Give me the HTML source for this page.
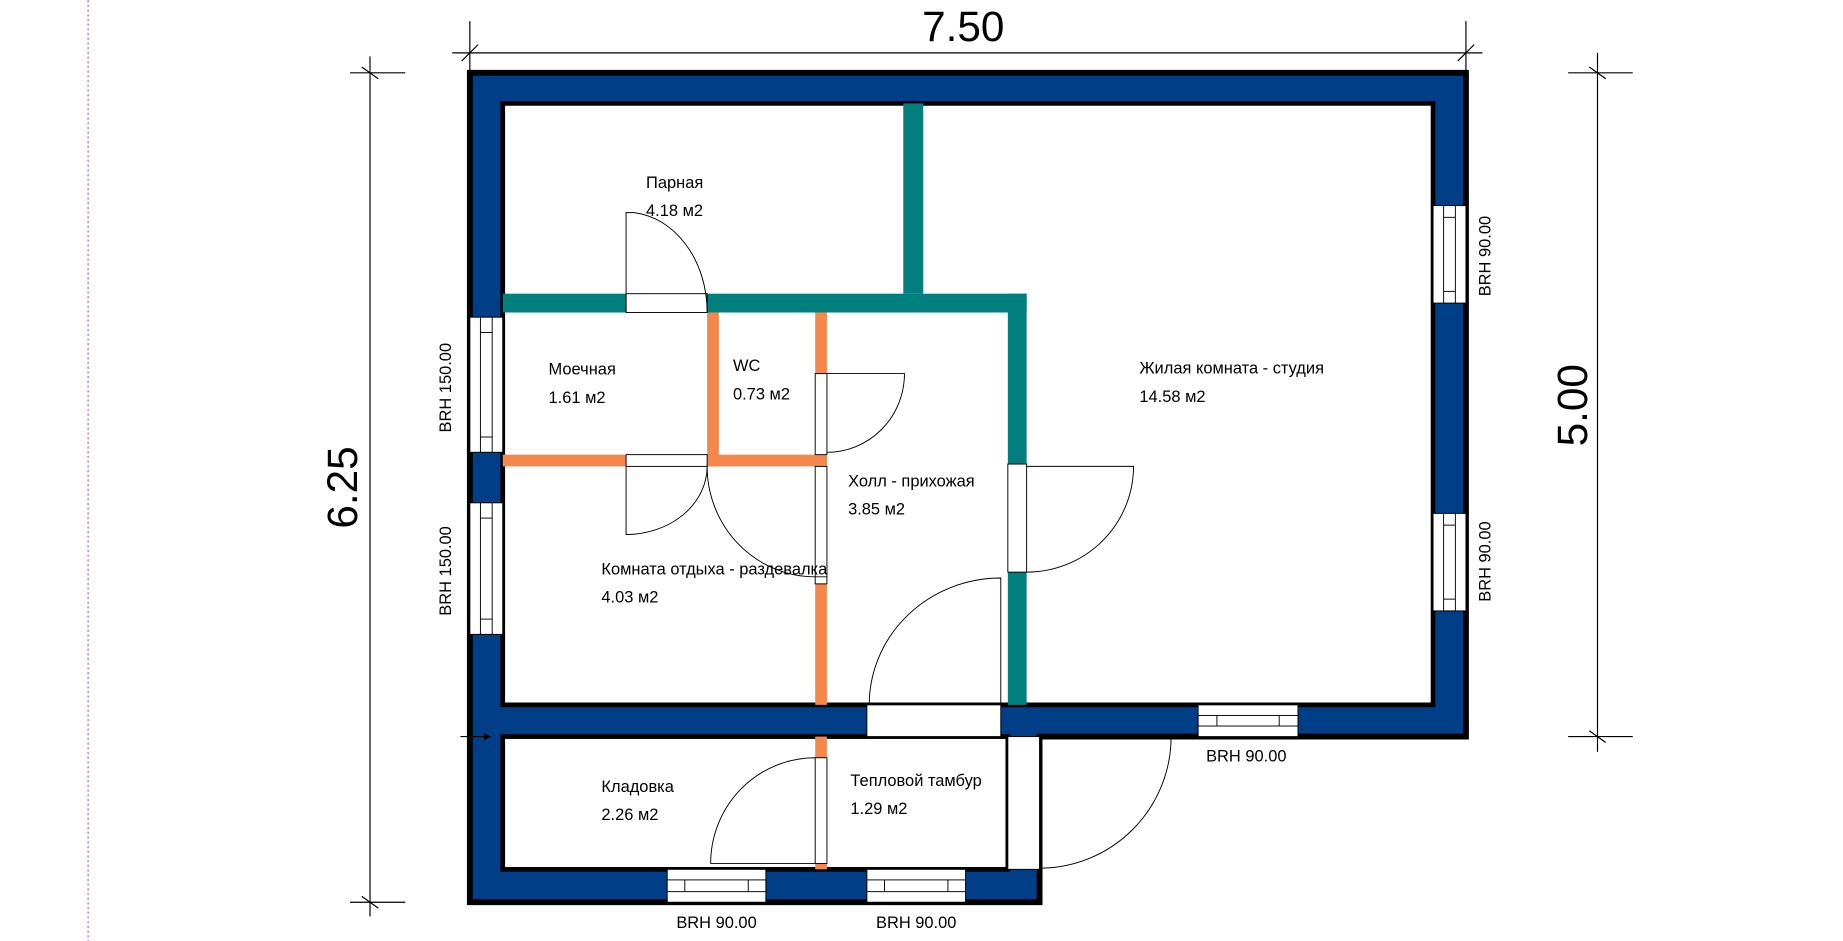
<!DOCTYPE html>
<html><head><meta charset="utf-8"><style>
html,body{margin:0;padding:0;background:#fff;}
svg{display:block;}
text{font-family:"Liberation Sans",Arial,sans-serif;fill:#000;}
</style></head><body>
<svg width="1843" height="941" viewBox="0 0 1569 801" preserveAspectRatio="none" xmlns="http://www.w3.org/2000/svg">
<line x1="75" y1="0" x2="75" y2="801" stroke="#b06cb0" stroke-width="1" stroke-dasharray="2,2"/>

<line x1="385" y1="45" x2="1262" y2="45" stroke="#000" stroke-width="1"/>
<line x1="400" y1="18" x2="400" y2="60" stroke="#000" stroke-width="1"/>
<line x1="1248" y1="18" x2="1248" y2="60" stroke="#000" stroke-width="1"/>
<line x1="393" y1="52" x2="407" y2="38" stroke="#000" stroke-width="1"/>
<line x1="1241" y1="52" x2="1255" y2="38" stroke="#000" stroke-width="1"/>
<text x="820" y="35" font-size="36" text-anchor="middle">7.50</text>

<line x1="315" y1="48" x2="315" y2="780" stroke="#000" stroke-width="1"/>
<line x1="298" y1="62" x2="345" y2="62" stroke="#000" stroke-width="1"/>
<line x1="298" y1="768" x2="345" y2="768" stroke="#000" stroke-width="1"/>
<line x1="308" y1="57" x2="322" y2="67" stroke="#000" stroke-width="1"/>
<line x1="308" y1="763" x2="322" y2="773" stroke="#000" stroke-width="1"/>
<text transform="translate(304,415) rotate(-90)" font-size="36" text-anchor="middle">6.25</text>

<line x1="1360" y1="45" x2="1360" y2="640" stroke="#000" stroke-width="1"/>
<line x1="1335" y1="62" x2="1390" y2="62" stroke="#000" stroke-width="1"/>
<line x1="1335" y1="627" x2="1390" y2="627" stroke="#000" stroke-width="1"/>
<line x1="1353" y1="57" x2="1367" y2="67" stroke="#000" stroke-width="1"/>
<line x1="1353" y1="622" x2="1367" y2="632" stroke="#000" stroke-width="1"/>
<text transform="translate(1351,345) rotate(-90)" font-size="36" text-anchor="middle">5.00</text>

<rect x="400" y="62" width="848" height="565" fill="#003f87"/>
<rect x="400" y="600" width="485" height="168" fill="#003f87"/>
<rect x="428" y="88" width="792" height="512" fill="#fff" stroke="#000" stroke-width="4"/>
<rect x="428" y="627" width="430" height="113" fill="#fff" stroke="#000" stroke-width="4"/>
<path d="M400,62 H1248 V627 H885 V768 H400 Z" fill="none" stroke="#000" stroke-width="5"/>

<g fill="#007f7f">
<rect x="769" y="88" width="17" height="162"/>
<rect x="428" y="250" width="105" height="16"/>
<rect x="602" y="250" width="272" height="16"/>
<rect x="858" y="250" width="16" height="145"/>
<rect x="858" y="487" width="16" height="113"/>
</g>
<g fill="#f4874b">
<rect x="602" y="266" width="10" height="131"/>
<rect x="428" y="387" width="105" height="10"/>
<rect x="602" y="387" width="102" height="10"/>
<rect x="694" y="266" width="10" height="52"/>
<rect x="694" y="497" width="10" height="103"/>
<rect x="694" y="627" width="10" height="18"/>
<rect x="694" y="735" width="10" height="5"/>
</g>

<g fill="#fff" stroke="#000" stroke-width="0.8">
<rect x="533" y="250" width="69" height="16"/>
<rect x="533" y="387" width="69" height="10"/>
<rect x="858" y="395" width="16" height="92"/>
<rect x="694" y="318" width="10" height="69"/>
<rect x="694" y="397" width="10" height="100"/>
<rect x="694" y="645" width="10" height="90"/>
<rect x="738" y="600" width="114" height="27"/>
<rect x="858" y="627" width="27" height="113"/>
</g>

<g fill="#fff" stroke="#000" stroke-width="0.8">
<rect x="400" y="270" width="28" height="115"/><rect x="409" y="270" width="10" height="115"/>
<line x1="409" y1="283" x2="419" y2="283"/><line x1="409" y1="372" x2="419" y2="372"/>
<rect x="400" y="428" width="28" height="112"/><rect x="409" y="428" width="10" height="112"/>
<line x1="409" y1="441" x2="419" y2="441"/><line x1="409" y1="527" x2="419" y2="527"/>
<rect x="1220" y="175" width="28" height="83"/><rect x="1229" y="175" width="10" height="83"/>
<line x1="1229" y1="185" x2="1239" y2="185"/><line x1="1229" y1="248" x2="1239" y2="248"/>
<rect x="1220" y="437" width="28" height="83"/><rect x="1229" y="437" width="10" height="83"/>
<line x1="1229" y1="447" x2="1239" y2="447"/><line x1="1229" y1="510" x2="1239" y2="510"/>
<rect x="1020" y="600" width="85" height="27"/><rect x="1020" y="609" width="85" height="9"/>
<line x1="1036" y1="609" x2="1036" y2="618"/><line x1="1089" y1="609" x2="1089" y2="618"/>
<rect x="568" y="740" width="84" height="28"/><rect x="568" y="749" width="84" height="10"/>
<line x1="583" y1="749" x2="583" y2="759"/><line x1="637" y1="749" x2="637" y2="759"/>
<rect x="738" y="740" width="84" height="28"/><rect x="738" y="749" width="84" height="10"/>
<line x1="753" y1="749" x2="753" y2="759"/><line x1="807" y1="749" x2="807" y2="759"/>
</g>

<g fill="none" stroke="#000" stroke-width="0.8">
<path d="M533,266 V181 H540 A69,85 0 0 1 602,266"/>
<path d="M533,397 V455 A69,58 0 0 0 602,397"/>
<path d="M602,397 A92,94 0 0 0 694,491 H704"/>
<path d="M704,318 H770 A66,67 0 0 1 704,385"/>
<path d="M874,397 H965 A91,90 0 0 1 874,487"/>
<path d="M852,600 V492 A112,108 0 0 0 740,600"/>
<path d="M694,735 H605 A89,90 0 0 1 694,645"/>
<path d="M885,627 H997 A112,112 0 0 1 885,739"/>
</g>
<line x1="392" y1="627" x2="418" y2="627" stroke="#000" stroke-width="1"/>
<path d="M418,627 l-6,-3 v6 z" fill="#000"/>

<g font-size="14">
<text x="550" y="160">Парная</text><text x="550" y="184">4.18 м2</text>
<text x="467" y="319">Моечная</text><text x="467" y="343">1.61 м2</text>
<text x="624" y="316">WC</text><text x="624" y="340">0.73 м2</text>
<text x="722" y="414">Холл - прихожая</text><text x="722" y="438">3.85 м2</text>
<text x="512" y="489">Комната отдыха - раздевалка</text><text x="512" y="513">4.03 м2</text>
<text x="970" y="318">Жилая комната - студия</text><text x="970" y="342">14.58 м2</text>
<text x="512" y="674">Кладовка</text><text x="512" y="698">2.26 м2</text>
<text x="724" y="669">Тепловой тамбур</text><text x="724" y="693">1.29 м2</text>
<text x="1061" y="648" text-anchor="middle">BRH 90.00</text>
<text x="610" y="790" text-anchor="middle">BRH 90.00</text>
<text x="780" y="790" text-anchor="middle">BRH 90.00</text>
<text transform="translate(384,330) rotate(-90)" text-anchor="middle">BRH 150.00</text>
<text transform="translate(384,486) rotate(-90)" text-anchor="middle">BRH 150.00</text>
<text transform="translate(1269,218) rotate(-90)" text-anchor="middle">BRH 90.00</text>
<text transform="translate(1269,478) rotate(-90)" text-anchor="middle">BRH 90.00</text>
</g>
</svg>
</body></html>
